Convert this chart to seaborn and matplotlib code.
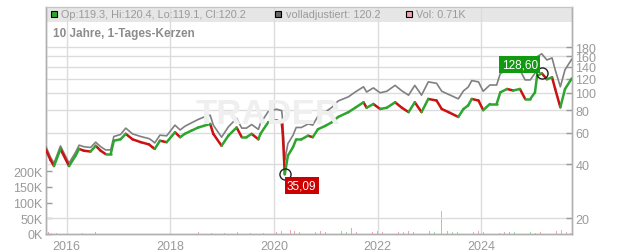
import numpy as np
import pandas as pd
import matplotlib
matplotlib.use("Agg")
import matplotlib.pyplot as plt
from matplotlib.patches import Rectangle
import seaborn as sns

# ---------------- data ----------------
years = [2015.60, 2015.69, 2015.755, 2015.88, 2016.045, 2016.17, 2016.24, 2016.33, 2016.46, 2016.56,
         2016.655, 2016.75, 2016.85, 2016.91, 2017.04, 2017.14, 2017.27, 2017.43, 2017.59, 2017.65,
         2017.70, 2017.80, 2017.93, 2018.09, 2018.19, 2018.28, 2018.41, 2018.54, 2018.64, 2018.77,
         2018.83, 2018.99, 2019.12, 2019.28, 2019.38, 2019.47, 2019.57, 2019.70, 2019.74, 2019.89,
         2020.05, 2020.15, 2020.17, 2020.21, 2020.27, 2020.37, 2020.43, 2020.53, 2020.66, 2020.75,
         2020.85, 2020.99, 2021.12, 2021.24, 2021.44, 2021.57, 2021.73, 2021.79, 2021.92, 2022.05,
         2022.18, 2022.34, 2022.47, 2022.60, 2022.72, 2022.85, 2022.98, 2023.14, 2023.24, 2023.37,
         2023.56, 2023.66, 2023.75, 2023.82, 2023.95, 2024.04, 2024.17, 2024.30, 2024.37, 2024.50,
         2024.62, 2024.75, 2024.85, 2024.95, 2025.04, 2025.08, 2025.17, 2025.27, 2025.37, 2025.43,
         2025.53, 2025.62, 2025.75]
close = [48, 42, 39, 48.5, 39, 44.5, 48.6, 47.5, 47, 50.6,
         47.5, 45.5, 45.5, 54, 55, 59, 55, 53, 51.5, 49.8,
         48.6, 54, 53, 60.2, 56.5, 59, 61.5, 64, 65.3, 67,
         59, 50.6, 57.6, 64, 56.5, 56.5, 59, 55, 59, 68.5,
         70, 68.5, 60, 35.09, 44.5, 49.8, 55, 55, 57.6, 56.5,
         62.6, 65.3, 68.5, 73.3, 78, 82.5, 88.5, 82.5, 86.6, 81.2,
         82.5, 88.5, 82.5, 78, 88.5, 78, 92.4, 90.5, 81.2, 78,
         73.3, 81.2, 85, 92.4, 90.5, 80, 86.6, 86.6, 100.5, 105,
         103, 105, 92.4, 92.4, 100.5, 124, 128.6, 119, 122, 105,
         83, 105, 120.2]
adjusted = [50, 43.5, 40.5, 50.5, 40.5, 46.5, 51, 50, 49.5, 53,
            50, 48, 48, 57, 58.5, 63.5, 59, 57, 55.5, 54,
            52.5, 58, 57.5, 66, 62, 65, 68, 71, 73, 75,
            66, 56.5, 64.5, 72, 63.5, 63.5, 66.5, 62.5, 67.5, 78.5,
            81, 79.5, 70, 42, 52, 58, 64, 64, 67, 66,
            74, 78, 83, 90, 95, 101, 108, 101, 106.5, 100,
            102, 110, 102.5, 97, 110, 97, 115, 113, 102, 98,
            92.5, 102.5, 107.5, 117, 115, 102, 110.5, 110.5, 128, 134,
            131.5, 134, 118, 118, 128.5, 159, 165, 152.5, 156.5, 134.5,
            108, 134.5, 154]

vol_years = [2015.65, 2015.80, 2015.95, 2016.10, 2016.30, 2016.55, 2016.80, 2017.05, 2017.30, 2017.55,
             2017.80, 2018.05, 2018.30, 2018.55, 2018.80, 2019.05, 2019.30, 2019.55, 2019.80, 2020.05,
             2020.15, 2020.25, 2020.32, 2020.40, 2020.50, 2020.60, 2020.70, 2020.80, 2020.90, 2021.00,
             2021.10, 2021.20, 2021.30, 2021.40, 2021.50, 2021.60, 2021.70, 2021.80, 2021.90, 2022.00,
             2022.10, 2022.20, 2022.30, 2022.40, 2022.50, 2022.60, 2022.70, 2022.80, 2022.90, 2023.00,
             2023.10, 2023.24, 2023.35, 2023.45, 2023.55, 2023.65, 2023.75, 2023.85, 2023.95, 2024.05,
             2024.15, 2024.25, 2024.35, 2024.45, 2024.55, 2024.65, 2024.75, 2024.85, 2024.95, 2025.05,
             2025.15, 2025.25, 2025.35, 2025.45, 2025.55, 2025.65, 2025.72]
vol_k = [6, 4, 5, 8, 4, 5, 6, 3, 5, 4,
         3, 5, 4, 6, 3, 4, 5, 3, 4, 6,
         8, 215, 12, 9, 7, 6, 10, 5, 8, 6,
         7, 5, 9, 6, 18, 5, 7, 6, 5, 8,
         6, 9, 5, 7, 6, 8, 5, 6, 7, 9,
         6, 73, 8, 5, 7, 4, 6, 5, 8, 6,
         5, 7, 4, 6, 5, 7, 4, 5, 6, 4,
         5, 6, 4, 9, 14, 5, 4]
vol_dir = ["down", "up", "down", "down", "up", "down", "up", "down", "down", "up",
           "down", "down", "up", "down", "up", "down", "up", "down", "down", "down",
           "down", "up", "down", "down", "up", "down", "down", "up", "down", "down",
           "up", "down", "down", "up", "down", "down", "up", "down", "down", "up",
           "down", "down", "up", "down", "up", "down", "down", "up", "down", "down",
           "up", "down", "down", "up", "down", "down", "up", "down", "down", "up",
           "down", "down", "up", "down", "down", "up", "down", "down", "up", "down",
           "down", "up", "down", "down", "up", "down", "down"]

price_ticks = [20, 40, 60, 80, 100, 120, 140, 160, 180]
vol_ticks = [0, 50000, 100000, 150000, 200000]
vol_labels = ["0K", "50K", "100K", "150K", "200K"]
year_ticks = [2016, 2018, 2020, 2022, 2024]

# ---------------- style ----------------
sns.set_style("white")
plt.rcParams["font.family"] = ["Liberation Sans", "DejaVu Sans"]

GREEN = "#2ea52e"
RED = "#cc1111"
GRID = "#dcdcdc"
TXT = "#9a9a9a"
SPINE = "#b0b0b0"

W, H = 632, 253
fig = plt.figure(figsize=(W / 100, H / 100), dpi=100)
L, R, T, B = 46, 572, 8, 235
ax = fig.add_axes([L / W, 1 - B / H, (R - L) / W, (B - T) / H])   # volume axis (left)
axp = ax.twinx()                                                  # price axis (right, log)

# watermark (behind everything)
ax.text(268, 0, "", transform=None)
fig.text(268 / W, 1 - 114 / H, "TRADER", fontsize=25, fontweight="bold", color="#efefef",
         ha="center", va="center", zorder=0)

# volume bars
vdf = pd.DataFrame({"year": vol_years, "vol": np.array(vol_k) * 1000.0, "dir": vol_dir})
vcol = {"up": "#9ed99e", "down": "#f2a3ad"}
ax.bar(vdf["year"], vdf["vol"], width=0.012, color=[vcol[d] for d in vdf["dir"]],
       linewidth=0, zorder=2)
ax.set_ylim(0, 50000 * (B - T) / 15.7)
ax.set_yticks(vol_ticks)
ax.set_yticklabels(vol_labels)

x0 = 2016 + (L - 66.7) / 51.8
x1 = 2016 + (R - 66.7) / 51.8
ax.set_xlim(x0, x1)
ax.set_xticks(year_ticks)
ax.set_xticklabels([str(y) for y in year_ticks])
ax.xaxis.grid(True, color=GRID, lw=1)
ax.set_axisbelow(True)
ax.patch.set_alpha(0)

# legend band
ax.add_patch(Rectangle((0, (B - 22.5) / (B - T)), 1, 1 - (B - 22.5) / (B - T),
                       transform=ax.transAxes, facecolor="#e6e6e6", edgecolor="none", zorder=0))

# price axis
axp.set_yscale("log")
axp.set_ylim(20 * np.exp((219 - B) / 77.8), 20 * np.exp((219 - T) / 77.8))
axp.set_yticks(price_ticks)
axp.set_yticklabels([str(t) for t in price_ticks])
axp.yaxis.set_minor_locator(matplotlib.ticker.NullLocator())
axp.yaxis.grid(True, color=GRID, lw=1)
axp.set_axisbelow(True)

pdf = pd.DataFrame({"year": years, "adjusted": adjusted})
sns.lineplot(data=pdf, x="year", y="adjusted", ax=axp, color="#808080", lw=1.2,
             estimator=None, legend=False, zorder=3)

# close as up/down coloured segments
rows = []
for i in range(1, len(years)):
    d = "up" if close[i] >= close[i - 1] else "down"
    rows.append({"seg": i, "year": years[i - 1], "close": close[i - 1], "dir": d})
    rows.append({"seg": i, "year": years[i], "close": close[i], "dir": d})
sdf = pd.DataFrame(rows)
sns.lineplot(data=sdf, x="year", y="close", units="seg", hue="dir", estimator=None,
             palette={"up": GREEN, "down": RED}, lw=1.8, ax=axp, legend=False, zorder=4)
axp.set_xlabel(""); axp.set_ylabel("")
ax.set_xlabel(""); ax.set_ylabel("")
axp.set_xlim(x0, x1)

# ticks styling
for a in (ax, axp):
    a.tick_params(axis="y", direction="in", length=4, width=1, color=TXT,
                  labelsize=9, labelcolor=TXT, pad=2.5)
    a.tick_params(axis="x", length=0, labelsize=9, labelcolor=TXT, pad=4)
    for s in ("left", "right", "bottom"):
        a.spines[s].set_color(SPINE)
        a.spines[s].set_linewidth(1)
    a.spines["top"].set_color("#c4c4c4")

# annotations
imax = int(np.argmax(close))
imin = int(np.argmin(close))
axp.plot([years[imax]], [close[imax]], marker="o", ms=8, mfc="none", mec="#222222", mew=1, zorder=6)
axp.plot([years[imin]], [close[imin]], marker="o", ms=8, mfc="none", mec="#222222", mew=1, zorder=6)
axp.annotate(f"{close[imax]:.2f}".replace(".", ","), (years[imax], close[imax]),
             xytext=(-22, 9), textcoords="offset pixels", ha="center", va="center",
             color="white", fontsize=8.5, zorder=7,
             bbox=dict(boxstyle="square,pad=0.2", fc="#119911", ec="none"))
axp.annotate(f"{close[imin]:.2f}".replace(".", ","), (years[imin], close[imin]),
             xytext=(17, -11), textcoords="offset pixels", ha="center", va="center",
             color="white", fontsize=8.5, zorder=7,
             bbox=dict(boxstyle="square,pad=0.2", fc="#cc0000", ec="none"))

# title + legend texts
fig.text(53 / W, 1 - 33.5 / H, "10 Jahre, 1-Tages-Kerzen", fontsize=8.5, fontweight="bold",
         color="#8c8c8c", ha="left", va="center")
ly = 1 - 15 / H
for (sx, col, label, tx) in [(50.5, GREEN, "Op:119.3, Hi:120.4, Lo:119.1, Cl:120.2", 61),
                             (275, "#666666", "volladjustiert: 120.2", 285.5),
                             (406, "#f2a3ad", "Vol: 0.71K", 416)]:
    fig.patches.append(Rectangle((sx / W, 1 - 18 / H), 6 / W, 6 / H, transform=fig.transFigure,
                                 facecolor=col, edgecolor="black", lw=0.8, figure=fig))
    fig.text(tx / W, ly, label, fontsize=7.8, color=TXT, ha="left", va="center")

fig.savefig("out.png", dpi=100, facecolor="white")
